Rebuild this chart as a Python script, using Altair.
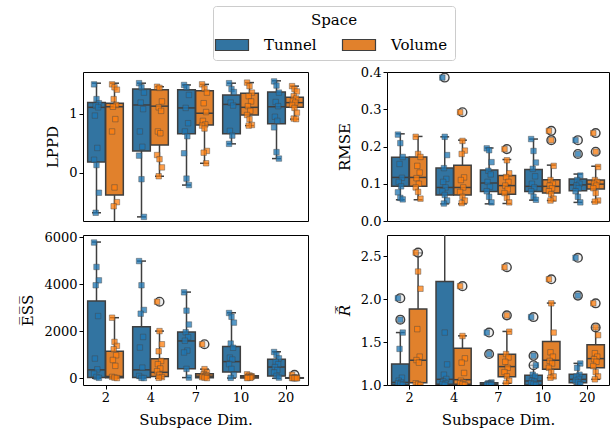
import altair as alt
import pandas as pd

dims = ["2", "4", "7", "10", "20"]
spaces = ["Tunnel", "Volume"]
box_colors = ["#3274a1", "#e1812c"]
point_colors = ["#1f77b4", "#ff7f0e"]

# group order: (2,T),(2,V),(4,T),(4,V),(7,T),(7,V),(10,T),(10,V),(20,T),(20,V)
# ---------------- LPPD ----------------
lppd_lo = [-0.68, -1.0, -0.75, -0.06, -0.21, 0.16, 0.49, 0.80, 0.24, 0.91]
lppd_q1 = [0.18, -0.38, 0.37, 0.47, 0.66, 0.81, 0.66, 0.98, 0.83, 1.11]
lppd_med = [1.11, 1.12, 1.15, 1.13, 1.10, 1.01, 1.16, 1.11, 1.12, 1.19]
lppd_q3 = [1.19, 1.18, 1.42, 1.41, 1.41, 1.39, 1.32, 1.35, 1.37, 1.28]
lppd_hi = [1.52, 1.52, 1.52, 1.46, 1.49, 1.50, 1.52, 1.53, 1.56, 1.47]
lppd_pts = [
    [1.50, 1.25, 1.18, 1.14, 1.11, 0.97, 0.42, 0.22, 0.13, -0.34, -0.68],
    [1.50, 1.45, 1.41, 1.25, 1.15, 1.12, 0.91, 0.70, -0.25, -0.50, -0.57, -1.0],
    [1.52, 1.45, 1.36, 1.19, 1.08, 0.70, 0.44, 0.29, -0.11, -0.75],
    [1.46, 1.44, 1.21, 1.11, 1.05, 0.70, 0.67, 0.30, 0.23, 0.09, -0.06],
    [1.49, 1.45, 1.32, 1.10, 0.84, 0.70, 0.62, 0.33, -0.10, -0.21],
    [1.50, 1.43, 1.36, 1.18, 1.03, 0.88, 0.82, 0.80, 0.75, 0.37, 0.34, 0.16],
    [1.52, 1.42, 1.37, 1.19, 1.14, 0.71, 0.63, 0.49],
    [1.53, 1.47, 1.36, 1.30, 1.21, 1.13, 1.05, 0.98, 0.91, 0.81, 0.80],
    [1.55, 1.48, 1.36, 1.20, 1.13, 0.95, 0.88, 0.77, 0.35, 0.24],
    [1.47, 1.42, 1.38, 1.30, 1.26, 1.22, 1.19, 1.15, 1.10, 1.02, 0.92, 0.91],
]
# ---------------- RMSE ----------------
rmse_lo = [0.057, 0.057, 0.046, 0.046, 0.046, 0.047, 0.056, 0.055, 0.050, 0.051]
rmse_q1 = [0.093, 0.093, 0.070, 0.070, 0.079, 0.072, 0.079, 0.075, 0.081, 0.086]
rmse_med = [0.117, 0.117, 0.090, 0.090, 0.102, 0.095, 0.093, 0.093, 0.097, 0.099]
rmse_q3 = [0.171, 0.172, 0.142, 0.150, 0.137, 0.122, 0.138, 0.111, 0.113, 0.110]
rmse_hi = [0.234, 0.227, 0.226, 0.217, 0.196, 0.165, 0.220, 0.150, 0.126, 0.147]
rmse_pts = [
    [0.232, 0.209, 0.172, 0.153, 0.116, 0.105, 0.093, 0.077, 0.062, 0.058],
    [0.226, 0.180, 0.172, 0.148, 0.130, 0.115, 0.100, 0.090, 0.078, 0.060],
    [0.385, 0.226, 0.177, 0.142, 0.113, 0.105, 0.090, 0.080, 0.070, 0.055, 0.047],
    [0.292, 0.215, 0.189, 0.180, 0.117, 0.110, 0.090, 0.078, 0.065, 0.055, 0.048],
    [0.195, 0.190, 0.158, 0.135, 0.125, 0.105, 0.092, 0.080, 0.065, 0.050],
    [0.193, 0.163, 0.128, 0.118, 0.105, 0.095, 0.085, 0.075, 0.062, 0.050],
    [0.220, 0.188, 0.157, 0.140, 0.120, 0.100, 0.090, 0.080, 0.065, 0.057],
    [0.242, 0.217, 0.148, 0.110, 0.100, 0.095, 0.088, 0.080, 0.072, 0.060, 0.055],
    [0.217, 0.180, 0.122, 0.110, 0.100, 0.095, 0.088, 0.080, 0.065, 0.050],
    [0.236, 0.186, 0.145, 0.110, 0.105, 0.100, 0.095, 0.088, 0.075, 0.055, 0.052],
]
# ---------------- ESS ----------------
ess_lo = [0, 0, 10, 0, 30, 0, 10, 0, 0, 0]
ess_q1 = [30, 20, 30, 80, 410, 20, 270, 15, 100, 5]
ess_med = [360, 80, 360, 255, 1590, 90, 710, 60, 480, 12]
ess_q3 = [3290, 1150, 2190, 830, 1970, 190, 1350, 110, 810, 25]
ess_hi = [5800, 2580, 4990, 2010, 3670, 390, 2790, 170, 1130, 40]
ess_pts = [
    [5780, 4740, 4170, 3960, 2650, 840, 380, 200, 60, 20],
    [2580, 1550, 1380, 1240, 980, 780, 530, 60, 30, 10],
    [4990, 3960, 2910, 2750, 1760, 1310, 455, 100, 20, 10],
    [3260, 2010, 1450, 1150, 740, 600, 420, 300, 150, 50, 20],
    [3660, 2880, 2290, 1960, 1750, 1600, 1180, 1100, 400, 30],
    [1450, 390, 250, 180, 130, 100, 80, 50, 30, 10],
    [2780, 2620, 2370, 1480, 1300, 880, 800, 600, 400, 150, 20],
    [170, 120, 80, 60, 50, 30, 20, 10],
    [1120, 1000, 850, 700, 600, 480, 350, 250, 100, 30],
    [150, 40, 30, 20, 15, 12, 10, 8, 5, 0],
]
# ---------------- R-hat ----------------
r_lo = [1.00, 1.00, 1.00, 1.00, 1.00, 1.02, 1.00, 1.085, 1.00, 1.066]
r_q1 = [1.00, 1.027, 1.01, 1.01, 1.00, 1.097, 1.00, 1.182, 1.027, 1.202]
r_med = [1.03, 1.288, 1.066, 1.062, 1.01, 1.214, 1.047, 1.288, 1.066, 1.307]
r_q3 = [1.245, 1.883, 2.203, 1.428, 1.025, 1.358, 1.112, 1.506, 1.124, 1.467]
r_hi = [1.61, 2.537, 3.2, 1.572, 1.03, 1.623, 1.229, 1.953, 1.252, 1.669]
r_pts = [
    [2.01, 1.76, 1.61, 1.42, 1.085, 1.05, 1.03, 1.02, 1.01, 1.00],
    [2.54, 2.32, 2.12, 1.65, 1.33, 1.29, 1.26, 1.02, 1.01, 1.00],
    [3.2, 1.61, 1.24, 1.12, 1.07, 1.04, 1.02, 1.01, 1.00],
    [2.15, 1.57, 1.31, 1.26, 1.14, 1.05, 1.03, 1.02, 1.01, 1.00],
    [1.61, 1.36, 1.03, 1.02, 1.02, 1.01, 1.01, 1.00, 1.00, 1.00],
    [2.37, 1.81, 1.62, 1.36, 1.32, 1.27, 1.20, 1.15, 1.10, 1.05, 1.02],
    [1.79, 1.34, 1.23, 1.12, 1.10, 1.05, 1.04, 1.02, 1.01, 1.00],
    [2.23, 1.95, 1.61, 1.38, 1.33, 1.28, 1.25, 1.20, 1.15, 1.10, 1.085],
    [2.48, 2.04, 1.25, 1.20, 1.12, 1.10, 1.07, 1.05, 1.03, 1.01],
    [1.95, 1.67, 1.58, 1.37, 1.33, 1.30, 1.27, 1.22, 1.15, 1.10, 1.066],
]

FONT = "DejaVu Serif"
EDGE = "#3f3f3f"
label_expr = "[" + ",".join("'%s'" % d for d in dims) + "][datum.value]"


def tables(lo, q1, med, q3, hi, pts):
    rows, prow = [], []
    for g in range(len(lo)):
        di, sp = g // 2, spaces[g % 2]
        rows.append(dict(di=di, space=sp, lo=lo[g], q1=q1[g], med=med[g], q3=q3[g], hi=hi[g]))
        for k, v in enumerate(pts[g]):
            prow.append(dict(di=di, space=sp, k=k, val=v,
                             out=bool(v > hi[g] + 1e-9 or v < lo[g] - 1e-9)))
    return pd.DataFrame(rows), pd.DataFrame(prow)


legend = alt.Legend(
    title="Space", orient="none", legendX=130, legendY=-66, direction="horizontal",
    titleAnchor="middle", titleFont=FONT, titleFontSize=15, titleFontWeight="normal",
    labelFont=FONT, labelFontSize=15, labelColor="black", titleColor="black",
    symbolType="M-1.5,-0.5L1.5,-0.5L1.5,0.5L-1.5,0.5Z", symbolSize=484,
    symbolStrokeColor=EDGE, symbolStrokeWidth=1.2, symbolOpacity=1,
    labelOffset=20, columnPadding=23, padding=7, strokeColor="#cccccc",
    fillColor="white", cornerRadius=3, titlePadding=5,
)


def panel(stats, pts, ydom, yvals, yfmt, ytitle, bottom, w, h, italic=False):
    box_df, pt_df = tables(*stats, pts)
    xsc = alt.Scale(domain=[-0.5, 4.5], nice=False, zero=False)
    ysc = alt.Scale(domain=ydom, nice=False, zero=False)
    if bottom:
        xax = alt.Axis(values=list(range(len(dims))), labelExpr=label_expr,
                       title="Subspace Dim.", grid=False, domain=False, labelAngle=0)
    else:
        xax = None
    yax = alt.Axis(values=yvals, format=yfmt, title=ytitle, grid=False, domain=False,
                   titleFontStyle="italic" if italic else "normal")

    def X(f):
        return alt.X(f, type="quantitative", scale=xsc, axis=xax)

    def Y(f):
        return alt.Y(f, type="quantitative", scale=ysc, axis=yax)

    calc = dict(xc="datum.di + (datum.space == 'Tunnel' ? -0.2 : 0.2)")
    base = alt.Chart(box_df).transform_calculate(**calc).transform_calculate(
        xl="datum.xc - 0.196", xr="datum.xc + 0.196",
        cl="datum.xc - 0.1", cr="datum.xc + 0.1")
    box = base.mark_bar(stroke=EDGE, strokeWidth=1.5, clip=True).encode(
        x=X("xl"), x2="xr", y=Y("q1"), y2="q3",
        color=alt.Color("space:N", scale=alt.Scale(domain=spaces, range=box_colors),
                        legend=legend))
    rule = dict(color=EDGE, strokeWidth=1.5, clip=True)
    wlo = base.mark_rule(**rule).encode(x=X("xc"), y=Y("lo"), y2="q1")
    whi = base.mark_rule(**rule).encode(x=X("xc"), y=Y("q3"), y2="hi")
    clo = base.mark_rule(**rule).encode(x=X("cl"), x2="cr", y=Y("lo"))
    chi = base.mark_rule(**rule).encode(x=X("cl"), x2="cr", y=Y("hi"))
    med = base.mark_rule(**rule).encode(x=X("xl"), x2="xr", y=Y("med"))

    pbase = alt.Chart(pt_df).transform_calculate(**calc)
    outl = pbase.transform_filter("datum.out").mark_point(
        shape="circle", filled=True, fill="#e4e4e4", fillOpacity=0.6,
        stroke=EDGE, strokeWidth=1.4, strokeOpacity=1, opacity=1, size=75, clip=True
    ).encode(x=X("xc"), y=Y("val"))
    sq = pbase.transform_calculate(
        xj="datum.xc + ((datum.k * 3) % 7 - 3) * 0.018"
    ).mark_square(size=30, opacity=1, fillOpacity=0.75, stroke="#444444",
                  strokeOpacity=0.55, strokeWidth=0.8, clip=True).encode(
        x=X("xj"), y=Y("val"),
        fill=alt.Fill("space:N", scale=alt.Scale(domain=spaces, range=point_colors),
                      legend=None))
    return alt.layer(box, wlo, whi, clo, chi, med, outl, sq).properties(width=w, height=h)


p1 = panel((lppd_lo, lppd_q1, lppd_med, lppd_q3, lppd_hi), lppd_pts,
           [-0.82, 1.71], [0, 1], "d", "LPPD", False, 225, 149)
p2 = panel((rmse_lo, rmse_q1, rmse_med, rmse_q3, rmse_hi), rmse_pts,
           [0, 0.4], [0, 0.1, 0.2, 0.3, 0.4], ".1f", "RMSE", False, 222, 149)
p3 = panel((ess_lo, ess_q1, ess_med, ess_q3, ess_hi), ess_pts,
           [-285, 6100], [0, 2000, 4000, 6000], "d", "E\u0305S\u0305S\u0305", True, 225, 150)
p4 = panel((r_lo, r_q1, r_med, r_q3, r_hi), r_pts,
           [1.0, 2.745], [1.0, 1.5, 2.0, 2.5], ".1f", "R\u0302\u0305", True, 222, 150,
           italic=True)

chart = alt.concat(
    p1, p2, p3, p4, columns=2, bounds="flush",
    spacing={"row": 14, "column": 79},
).properties(
    padding={"left": 20, "top": 5, "right": 0, "bottom": 0}
).configure_view(
    stroke="black", strokeWidth=1
).configure_axis(
    labelFont=FONT, labelFontSize=13, labelColor="black",
    titleFont=FONT, titleFontSize=15, titleFontWeight="normal", titleColor="black",
    tickColor="black", tickSize=4, labelPadding=2, titlePadding=8,
)

chart.save("out.html", embed_options={"renderer": "svg", "actions": False})
